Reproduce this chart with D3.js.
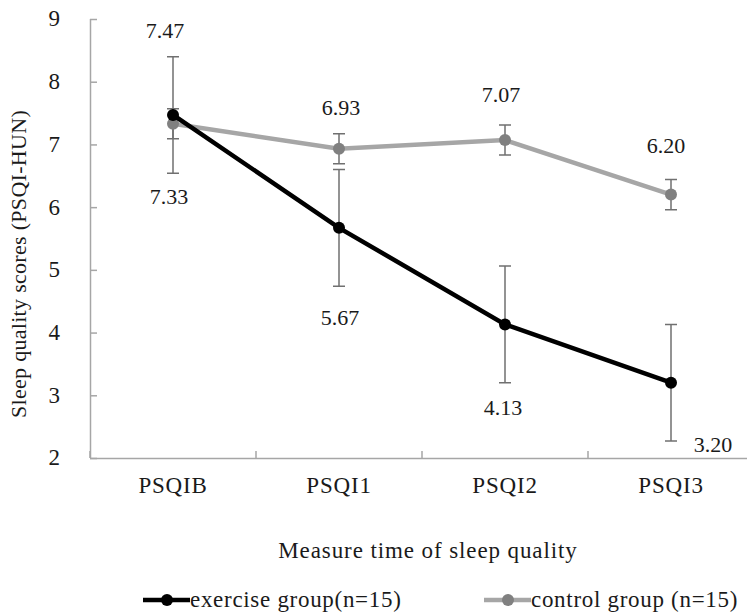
<!DOCTYPE html>
<html><head><meta charset="utf-8">
<script src="https://cdn.jsdelivr.net/npm/d3@7"></script>
<style>body{margin:0;background:#fff}</style>
</head><body>
<svg id="c" width="747" height="614"></svg>
<script>
const categories = ["PSQIB","PSQI1","PSQI2","PSQI3"];
const exerciseMeans = [7.47, 5.67, 4.13, 3.20];
const exerciseErr = [0.93, 0.93, 0.93, 0.93];
const controlMeans = [7.33, 6.93, 7.07, 6.20];
const controlErr = [0.24, 0.24, 0.24, 0.24];
const yTicks = [2,3,4,5,6,7,8,9];
const seriesNames = ["exercise group(n=15)", "control group (n=15)"];

const FONT = "'Liberation Serif','Times New Roman',serif";
const svg = d3.select("#c");
const L = 90, R = 754, T = 19, B = 458;
const x = d3.scaleBand().domain(categories).range([L, R]);
const y = d3.scaleLinear().domain([2, 9]).range([B, T]);
const axisCol = "#a6a6a6";
const txtCol = "#1a1a1a";

// y axis
const ya = svg.append("g").attr("transform", `translate(${L},0)`)
  .call(d3.axisLeft(y).tickValues(yTicks).tickSize(-7).tickPadding(30).tickFormat(d3.format("d")));
ya.select(".domain").attr("stroke", axisCol).attr("stroke-width", 1.5).attr("d", `M0.5,${T}V${B}`);
ya.selectAll(".tick line").attr("stroke", axisCol).attr("stroke-width", 1.5);
ya.selectAll(".tick text").attr("font-family", FONT).attr("font-size", 23).attr("fill", txtCol).attr("dy", "0.3em");

// x axis
const xa = svg.append("g").attr("transform", `translate(0,${B})`)
  .call(d3.axisBottom(x).tickSize(0).tickPadding(28));
xa.select(".domain").attr("stroke", axisCol).attr("stroke-width", 1.5).attr("d", `M${L},0.5H${R}`);
xa.selectAll(".tick text").attr("font-family", FONT).attr("font-size", 23).attr("fill", txtCol).attr("dy", "0.3em").attr("letter-spacing", 0.8);
// boundary ticks
const bounds = categories.map(c => x(c)).concat([R]);
svg.append("g").selectAll("line").data(bounds).join("line")
  .attr("x1", d => d).attr("x2", d => d).attr("y1", B - 7).attr("y2", B)
  .attr("stroke", axisCol).attr("stroke-width", 1.5);

const cx = c => x(c) + x.bandwidth() / 2;

// error bars
function errBars(means, errs) {
  const g = svg.append("g").attr("stroke", "#707070").attr("stroke-width", 1.5).attr("fill", "none");
  categories.forEach((c, i) => {
    const X = cx(c), y1 = y(means[i] + errs[i]), y2 = y(means[i] - errs[i]);
    g.append("path").attr("d", `M${X},${y1}V${y2}M${X-6},${y1}H${X+6}M${X-6},${y2}H${X+6}`);
  });
}
errBars(exerciseMeans, exerciseErr);
errBars(controlMeans, controlErr);

const line = d3.line().x((d, i) => cx(categories[i])).y(d => y(d));
// control
svg.append("path").datum(controlMeans).attr("d", line).attr("fill", "none")
  .attr("stroke", "#a6a6a6").attr("stroke-width", 4.5);
svg.append("g").selectAll("circle").data(controlMeans).join("circle")
  .attr("cx", (d, i) => cx(categories[i])).attr("cy", d => y(d)).attr("r", 6).attr("fill", "#808080");
// exercise
svg.append("path").datum(exerciseMeans).attr("d", line).attr("fill", "none")
  .attr("stroke", "#000").attr("stroke-width", 4.5);
svg.append("g").selectAll("circle").data(exerciseMeans).join("circle")
  .attr("cx", (d, i) => cx(categories[i])).attr("cy", d => y(d)).attr("r", 6).attr("fill", "#000");

// data labels (offsets relative to points)
const exOff = [[-8,-77],[1,97],[-2,91],[42,69]];
const ctOff = [[-4,80],[2,-34],[-4,-38],[-5,-42]];
function labels(means, offs) {
  svg.append("g").selectAll("text").data(means).join("text")
    .attr("x", (d, i) => cx(categories[i]) + offs[i][0])
    .attr("y", (d, i) => y(d) + offs[i][1])
    .attr("text-anchor", "middle").attr("font-family", FONT).attr("font-size", 22).attr("fill", txtCol)
    .text(d => d.toFixed(2));
}
labels(exerciseMeans, exOff);
labels(controlMeans, ctOff);

// axis titles
svg.append("text").attr("x", 428).attr("y", 558).attr("text-anchor", "middle")
  .attr("font-family", FONT).attr("font-size", 23).attr("fill", txtCol).attr("letter-spacing", 0.9)
  .text("Measure time of sleep quality");
svg.append("text").attr("transform", "translate(26,264) rotate(-90)").attr("text-anchor", "middle")
  .attr("font-family", FONT).attr("font-size", 22).attr("fill", txtCol).attr("letter-spacing", 0.3)
  .text("Sleep quality scores (PSQI-HUN)");

// legend
const leg = [{x: 143, col: "#000", mcol: "#000", name: seriesNames[0]}, {x: 484, col: "#a6a6a6", mcol: "#808080", name: seriesNames[1]}];
const lg = svg.append("g");
leg.forEach(l => {
  lg.append("line").attr("x1", l.x).attr("x2", l.x + 47).attr("y1", 600).attr("y2", 600)
    .attr("stroke", l.col).attr("stroke-width", 4.5);
  lg.append("circle").attr("cx", l.x + 24).attr("cy", 600).attr("r", 6).attr("fill", l.mcol);
  lg.append("text").attr("x", l.x + 47).attr("y", 607).attr("font-family", FONT).attr("font-size", 23)
    .attr("fill", txtCol).attr("letter-spacing", 0.7).text(l.name);
});
</script>
</body></html>
